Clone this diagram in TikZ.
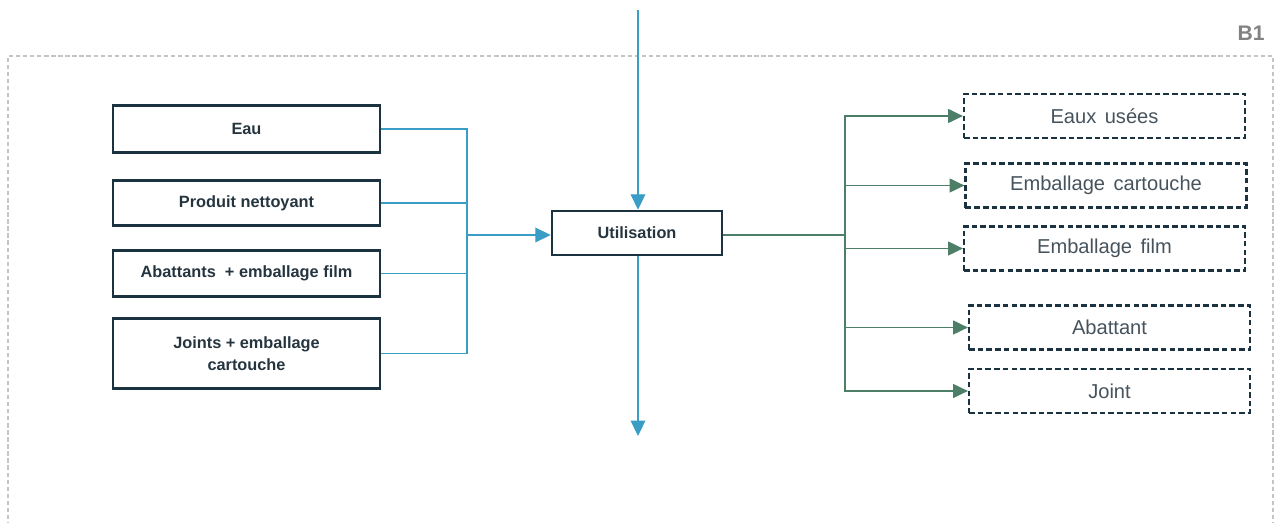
\documentclass[tikz,border=0pt]{standalone}
\usepackage{fontspec}
\setmainfont{Liberation Sans}
\usetikzlibrary{arrows.meta,calc,positioning}
\definecolor{boxline}{HTML}{1B3340}
\definecolor{flowblue}{HTML}{3A9DC6}
\definecolor{flowgreen}{HTML}{4C7E68}
\definecolor{framegray}{HTML}{C4C4C4}
\definecolor{labelgray}{HTML}{828282}
\definecolor{txtdark}{HTML}{253540}
\newcommand\outfont{\fontsize{14.3}{16}\selectfont\spaceskip=0.42em plus 0.1em\relax}

\begin{document}
\begin{tikzpicture}[x=0.025cm,y=-0.025cm,
  inbox/.style={draw=boxline,line width=1.8pt,rectangle,minimum width=6.675cm,align=center,text=txtdark,font=\fontsize{11.6}{16}\selectfont\bfseries},
  outbox/.style={draw=boxline,line width=1.6pt,dash pattern=on 4pt off 2.2pt,rectangle,minimum width=7.025cm,minimum height=1.1cm,text=txtdark!85!white,font=\outfont},
  blueline/.style={flowblue,line width=0.8pt},
  greenline/.style={flowgreen,line width=0.8pt},
  bluetip/.style={-{Triangle[length=11pt,width=10.5pt]}},
  greentip/.style={-{Triangle[length=10.5pt,width=10pt]}}]

  \useasboundingbox (0,0) rectangle (1275,523);

  % frame of the block
  \draw [framegray, line width=1pt, dash pattern=on 3pt off 2pt] (8,540) -- (8,56) -- (1273,56) -- (1273,540);
  \node [text=labelgray, font=\fontsize{15}{17}\selectfont\bfseries] at (1251,33) (blocklabel) {B1};

  \node [draw=boxline,line width=1.8pt,rectangle,minimum width=4.25cm,minimum height=1.1cm,text=txtdark,font=\fontsize{11.6}{16}\selectfont\bfseries] at (637,233) (util) {Utilisation};

  \coordinate (bbus) at (467,235);
  \coordinate (gbus) at (845,235);
  \coordinate (top) at (638,10);
  \coordinate (bot) at (638,436);

  \draw [blueline, bluetip] (top) -- (top |- util.north);
  \draw [blueline, bluetip] (top |- util.south) -- (bot);
  \draw [blueline, bluetip] (bbus) -- (util.west |- bbus);
  \draw [greenline] (util.east |- gbus) -- (gbus);

  \foreach \y/\h/\txt [count=\i] in {129/1.175cm/Eau, 203/1.125cm/Produit nettoyant, 273.5/1.15cm/{Abattants \ + emballage film}, 353.5/1.75cm/{Joints + emballage\\cartouche}}
  {
    \node [inbox, minimum height=\h] at (246.5,\y) (in_\i) {\txt};
    \draw [blueline] (in_\i.east) -| (bbus);
  }

  \foreach \x/\y/\txt [count=\i] in {1104.5/116/Eaux usées, 1106/185.5/Emballage cartouche, 1104.5/248.5/Emballage film, 1109.5/327.5/Abattant, 1109.5/391/Joint}
  {
    \node [outbox] at (\x,\y) (out_\i) {\txt};
    \draw [greenline, greentip] (gbus) |- (out_\i.west);
  }

\end{tikzpicture}
\end{document}
